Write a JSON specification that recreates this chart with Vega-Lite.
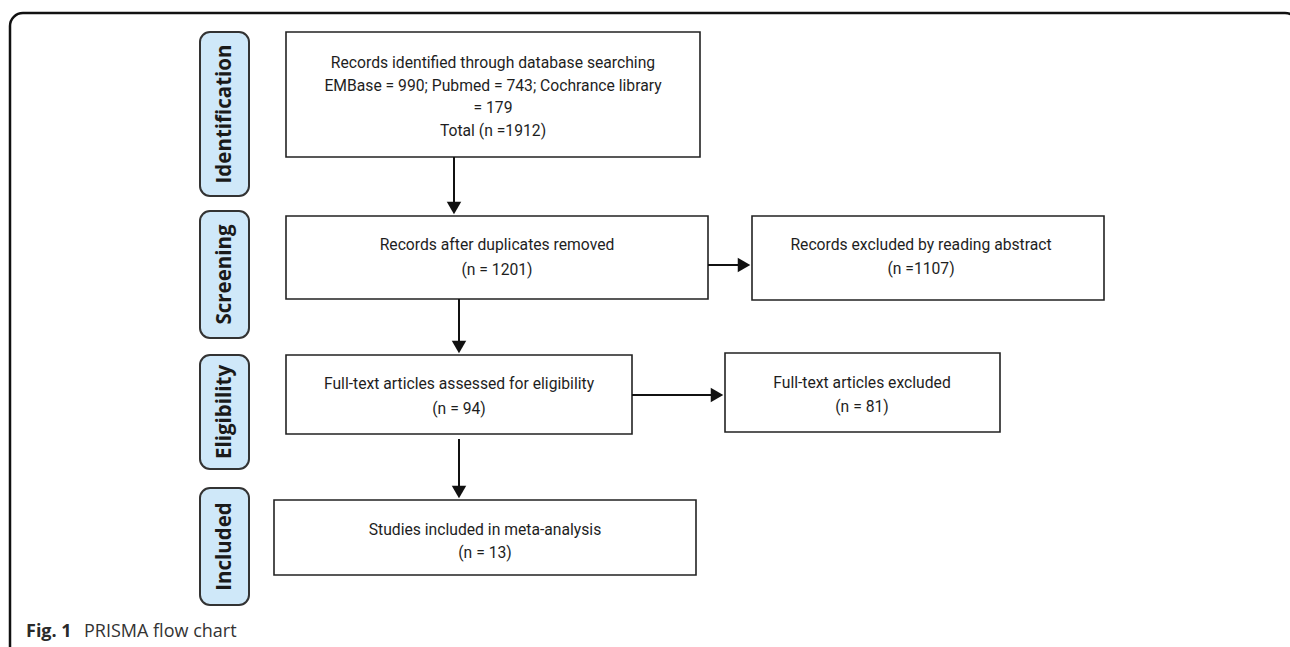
{
  "$schema": "https://vega.github.io/schema/vega-lite/v6.json",
  "autosize": {"type": "fit", "contains": "padding"},
  "width": 1290,
  "height": 647,
  "padding": 0,
  "background": "white",
  "config": {"view": {"stroke": null}},
  "datasets": {
    "frame": [{"x1": 10, "x2": 1298, "y1": 13, "y2": 700}],
    "stages": [
      {"name": "Identification", "x1": 200, "x2": 249, "y1": 32, "y2": 196},
      {"name": "Screening", "x1": 200, "x2": 249, "y1": 211, "y2": 338},
      {"name": "Eligibility", "x1": 200, "x2": 249, "y1": 355, "y2": 469},
      {"name": "Included", "x1": 200, "x2": 249, "y1": 488, "y2": 605}
    ],
    "boxes": [
      {"id": "identified", "x1": 286, "x2": 700, "y1": 32, "y2": 157},
      {"id": "deduplicated", "x1": 286, "x2": 708, "y1": 216, "y2": 299},
      {"id": "excluded_abstract", "x1": 752, "x2": 1104, "y1": 216, "y2": 300},
      {"id": "assessed", "x1": 286, "x2": 632, "y1": 355, "y2": 434},
      {"id": "excluded_fulltext", "x1": 725, "x2": 1000, "y1": 353, "y2": 432},
      {"id": "included", "x1": 274, "x2": 696, "y1": 500, "y2": 575}
    ],
    "arrows": [
      {"x1": 454, "y1": 157, "x2": 454, "y2": 205, "hx": 454, "hy": 208, "dir": "triangle-down"},
      {"x1": 708, "y1": 265, "x2": 741, "y2": 265, "hx": 744, "hy": 265, "dir": "triangle-right"},
      {"x1": 459, "y1": 299, "x2": 459, "y2": 344, "hx": 459, "hy": 347, "dir": "triangle-down"},
      {"x1": 632, "y1": 395, "x2": 714, "y2": 395, "hx": 717, "hy": 395, "dir": "triangle-right"},
      {"x1": 459, "y1": 439, "x2": 459, "y2": 489, "hx": 459, "hy": 492, "dir": "triangle-down"}
    ],
    "texts": [
      {"t": "Records identified through database searching", "x": 493, "y": 63},
      {"t": "EMBase = 990; Pubmed = 743; Cochrance library", "x": 493, "y": 86},
      {"t": "= 179", "x": 493, "y": 108},
      {"t": "Total (n =1912)", "x": 493, "y": 131},
      {"t": "Records after duplicates removed", "x": 497, "y": 245},
      {"t": "(n = 1201)", "x": 497, "y": 270},
      {"t": "Records excluded by reading abstract", "x": 921, "y": 245},
      {"t": "(n =1107)", "x": 921, "y": 269},
      {"t": "Full-text articles assessed for eligibility", "x": 459, "y": 384},
      {"t": "(n = 94)", "x": 459, "y": 409},
      {"t": "Full-text articles excluded", "x": 862, "y": 383},
      {"t": "(n = 81)", "x": 862, "y": 407},
      {"t": "Studies included in meta-analysis", "x": 485, "y": 530},
      {"t": "(n = 13)", "x": 485, "y": 553}
    ],
    "caption": [
      {"t": "Fig. 1", "x": 26, "y": 632, "w": "bold"},
      {"t": "PRISMA flow chart", "x": 84, "y": 632, "w": "normal"}
    ]
  },
  "layer": [
    {
      "data": {"name": "frame"},
      "mark": {"type": "rect", "fill": null, "stroke": "#111111", "strokeWidth": 2.5, "cornerRadius": 13, "clip": true},
      "encoding": {
        "x": {"field": "x1", "type": "quantitative", "scale": {"domain": [0, 1290], "nice": false, "zero": false}, "axis": null},
        "x2": {"field": "x2"},
        "y": {"field": "y1", "type": "quantitative", "scale": {"domain": [0, 647], "nice": false, "zero": false, "reverse": true}, "axis": null},
        "y2": {"field": "y2"}
      }
    },
    {
      "data": {"name": "stages"},
      "mark": {"type": "rect", "fill": "#cfe8f9", "stroke": "#333333", "strokeWidth": 2, "cornerRadius": 10},
      "encoding": {
        "x": {"field": "x1", "type": "quantitative"},
        "x2": {"field": "x2"},
        "y": {"field": "y1", "type": "quantitative"},
        "y2": {"field": "y2"}
      }
    },
    {
      "data": {"name": "stages"},
      "transform": [{"calculate": "(datum.x1 + datum.x2) / 2", "as": "cx"}, {"calculate": "(datum.y1 + datum.y2) / 2", "as": "cy"}],
      "mark": {"type": "text", "angle": 270, "font": "Open Sans", "fontWeight": "bold", "fontSize": 20.5, "color": "#1a1a1a", "align": "center", "baseline": "middle"},
      "encoding": {
        "x": {"field": "cx", "type": "quantitative"},
        "y": {"field": "cy", "type": "quantitative"},
        "text": {"field": "name"}
      }
    },
    {
      "data": {"name": "boxes"},
      "mark": {"type": "rect", "fill": "white", "stroke": "#222222", "strokeWidth": 1.6},
      "encoding": {
        "x": {"field": "x1", "type": "quantitative"},
        "x2": {"field": "x2"},
        "y": {"field": "y1", "type": "quantitative"},
        "y2": {"field": "y2"}
      }
    },
    {
      "data": {"name": "arrows"},
      "mark": {"type": "rule", "stroke": "#111111", "strokeWidth": 2},
      "encoding": {
        "x": {"field": "x1", "type": "quantitative"},
        "x2": {"field": "x2"},
        "y": {"field": "y1", "type": "quantitative"},
        "y2": {"field": "y2"}
      }
    },
    {
      "data": {"name": "arrows"},
      "mark": {"type": "point", "filled": true, "fill": "#111111", "opacity": 1, "strokeWidth": 0, "size": 210},
      "encoding": {
        "x": {"field": "hx", "type": "quantitative"},
        "y": {"field": "hy", "type": "quantitative"},
        "shape": {"field": "dir", "type": "nominal", "scale": {"domain": ["triangle-down", "triangle-right"], "range": ["triangle-down", "triangle-right"]}, "legend": null}
      }
    },
    {
      "data": {"name": "texts"},
      "mark": {"type": "text", "font": "Roboto", "fontSize": 15.7, "color": "#1e1e1e", "align": "center", "baseline": "middle"},
      "encoding": {
        "x": {"field": "x", "type": "quantitative"},
        "y": {"field": "y", "type": "quantitative"},
        "text": {"field": "t"}
      }
    },
    {
      "data": {"name": "caption"},
      "transform": [{"filter": "datum.w === 'bold'"}],
      "mark": {"type": "text", "font": "Open Sans", "fontSize": 18, "fontWeight": "bold", "color": "#2a2a2a", "align": "left", "baseline": "middle"},
      "encoding": {
        "x": {"field": "x", "type": "quantitative"},
        "y": {"field": "y", "type": "quantitative"},
        "text": {"field": "t"}
      }
    },
    {
      "data": {"name": "caption"},
      "transform": [{"filter": "datum.w === 'normal'"}],
      "mark": {"type": "text", "font": "Open Sans", "fontSize": 18, "fontWeight": "normal", "color": "#333333", "align": "left", "baseline": "middle"},
      "encoding": {
        "x": {"field": "x", "type": "quantitative"},
        "y": {"field": "y", "type": "quantitative"},
        "text": {"field": "t"}
      }
    }
  ]
}
